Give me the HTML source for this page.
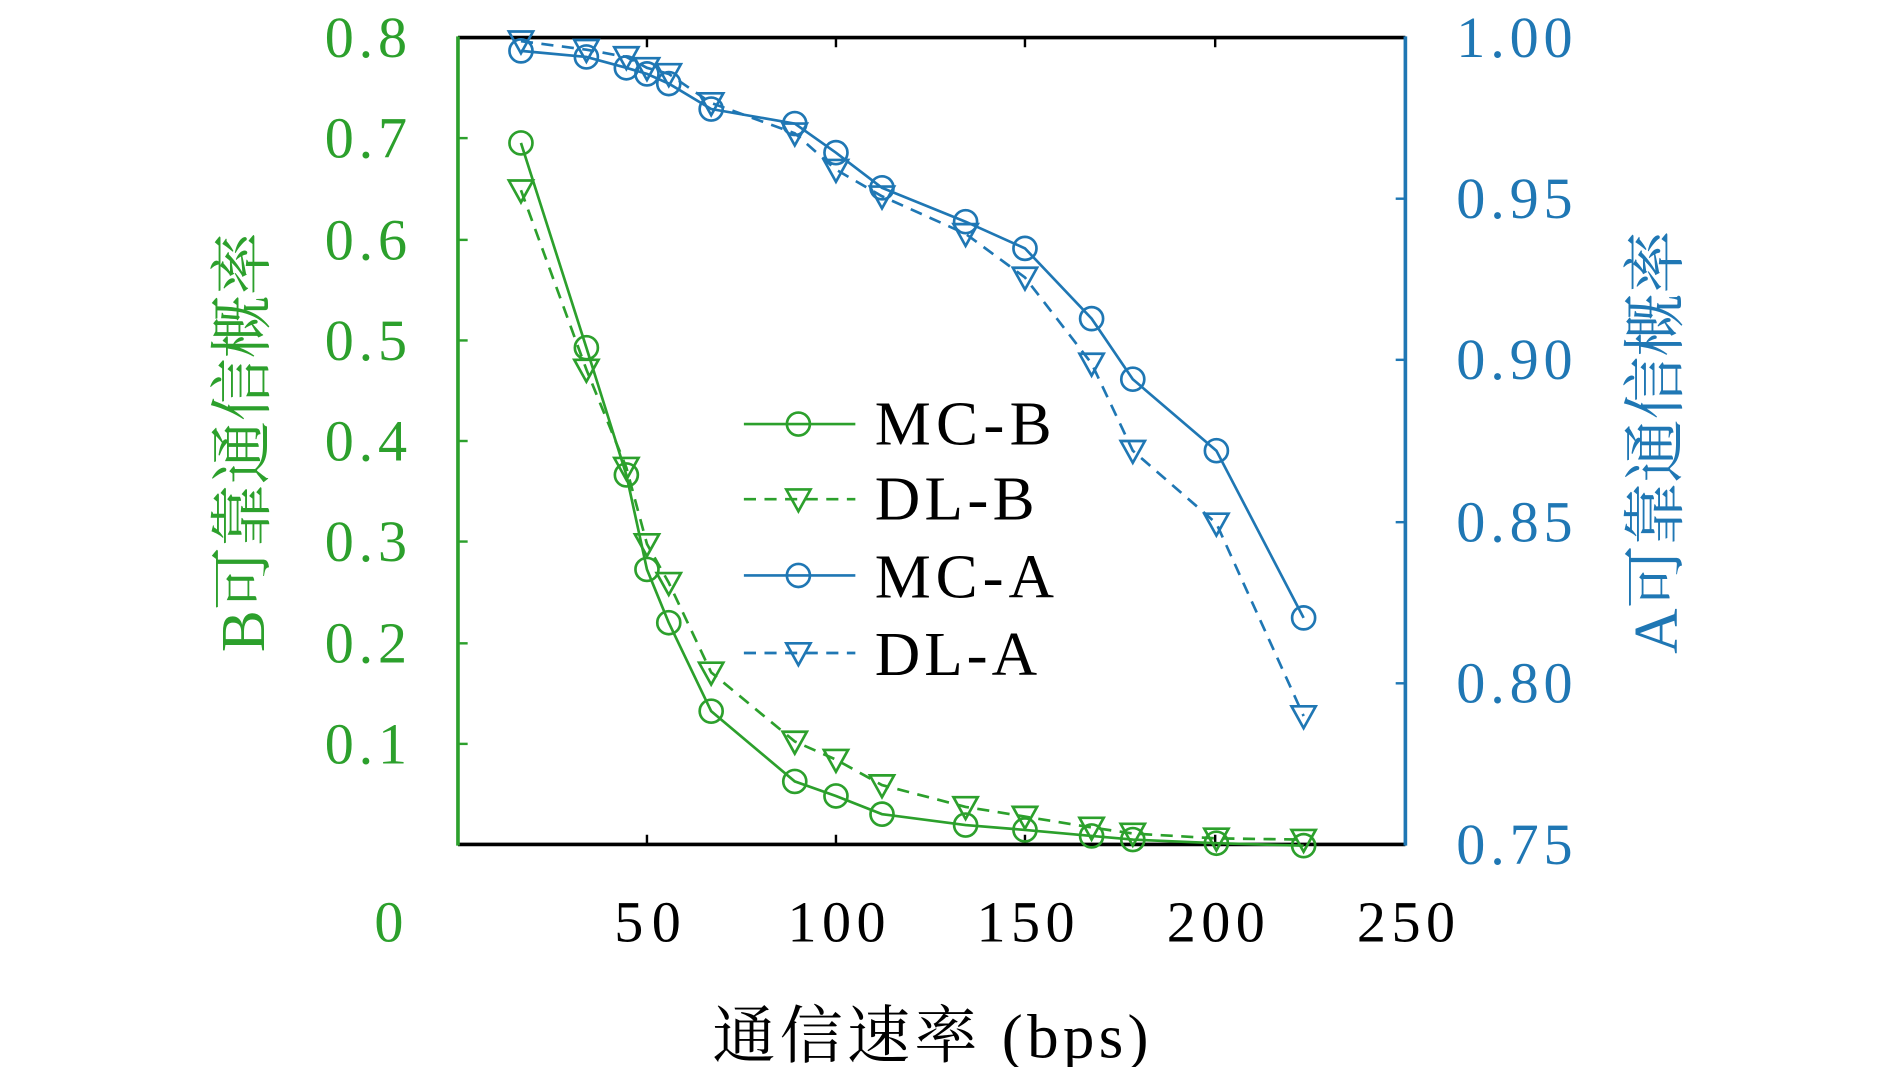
<!DOCTYPE html>
<html><head><meta charset="utf-8"><style>html,body{margin:0;padding:0;background:#fff}svg{display:block}</style></head>
<body>
<svg width="1890" height="1067" viewBox="0 0 1560 880.7" preserveAspectRatio="none" xmlns="http://www.w3.org/2000/svg" font-family="'Liberation Serif','Noto Serif CJK SC',serif">
<defs>
<circle id="c" r="9.5" fill="none" stroke-width="2.2"/>
<path id="t" d="M-10,-8 L10,-8 L0,10 Z" fill="none" stroke-width="2.2"/>
</defs>
<line x1="378" y1="31" x2="1160" y2="31" stroke="#000" stroke-width="3"/>
<line x1="378" y1="697" x2="1160" y2="697" stroke="#000" stroke-width="3"/>
<line x1="378" y1="30" x2="378" y2="698" stroke="#2ca02c" stroke-width="3"/>
<line x1="1160" y1="30" x2="1160" y2="698" stroke="#1f77b4" stroke-width="3"/>
<g stroke="#000" stroke-width="2">
<line x1="534" y1="697" x2="534" y2="689"/><line x1="690" y1="697" x2="690" y2="689"/><line x1="846" y1="697" x2="846" y2="689"/><line x1="1003" y1="697" x2="1003" y2="689"/>
<line x1="534" y1="31" x2="534" y2="39"/><line x1="690" y1="31" x2="690" y2="39"/><line x1="846" y1="31" x2="846" y2="39"/><line x1="1003" y1="31" x2="1003" y2="39"/>
</g>
<g stroke="#2ca02c" stroke-width="2">
<line x1="378" y1="114" x2="386" y2="114"/><line x1="378" y1="198" x2="386" y2="198"/><line x1="378" y1="281" x2="386" y2="281"/><line x1="378" y1="364" x2="386" y2="364"/><line x1="378" y1="447" x2="386" y2="447"/><line x1="378" y1="531" x2="386" y2="531"/><line x1="378" y1="614" x2="386" y2="614"/>
</g>
<g stroke="#1f77b4" stroke-width="2">
<line x1="1152" y1="164" x2="1160" y2="164"/><line x1="1152" y1="297" x2="1160" y2="297"/><line x1="1152" y1="431" x2="1160" y2="431"/><line x1="1152" y1="564" x2="1160" y2="564"/>
</g>
<g fill="#2ca02c" font-size="48">
<text x="268" y="47" textLength="68">0.8</text><text x="268" y="130" textLength="68">0.7</text><text x="268" y="214" textLength="68">0.6</text><text x="268" y="297" textLength="68">0.5</text><text x="268" y="380" textLength="68">0.4</text><text x="268" y="463" textLength="68">0.3</text><text x="268" y="547" textLength="68">0.2</text><text x="268" y="630" textLength="68">0.1</text><text x="309" y="777" textLength="27">0</text>
</g>
<g fill="#1f77b4" font-size="48">
<text x="1202" y="47" textLength="96">1.00</text><text x="1202" y="180" textLength="96">0.95</text><text x="1202" y="313" textLength="96">0.90</text><text x="1202" y="447" textLength="96">0.85</text><text x="1202" y="580" textLength="96">0.80</text><text x="1202" y="713" textLength="96">0.75</text>
</g>
<g fill="#000" font-size="48">
<text x="507" y="777" textLength="55">50</text><text x="650" y="777" textLength="81">100</text><text x="806" y="777" textLength="81">150</text><text x="963" y="777" textLength="81">200</text><text x="1120" y="777" textLength="81">250</text>
</g>
<text x="588" y="873" font-size="52" textLength="360" fill="#000">通信速率 (bps)</text>
<text transform="translate(218,365) rotate(-90)" font-size="52" text-anchor="middle" fill="#2ca02c">B可靠通信概率</text>
<text transform="translate(1384,365) rotate(-90)" font-size="52" text-anchor="middle" fill="#1f77b4">A可靠通信概率</text>
<g fill="none" stroke-width="2.2">
<polyline stroke="#2ca02c" points="430,118 484,287 517,392 534,470 552,514 587,587 656,645 690,657 728,672 797,681 846,685 901,690 935,693 1004,696 1076,698"/>
<polyline stroke="#2ca02c" stroke-dasharray="10,7" points="430,157 484,305 517,386 534,449 552,481 587,555 656,612 690,627 728,648 797,666 846,674 901,683 935,688 1004,692 1076,693"/>
<polyline stroke="#1f77b4" points="430,42 484,47 517,56 534,61 552,69 587,90 656,102 690,126 728,155 797,183 846,205 901,263 935,313 1004,372 1076,510"/>
<polyline stroke="#1f77b4" stroke-dasharray="10,7" points="430,34 484,41 517,47 534,56 552,61 587,85 656,110 690,140 728,162 797,193 846,229 901,300 935,372 1004,432 1076,591"/>
</g>
<g stroke="#2ca02c">
<use href="#c" x="430" y="118"/><use href="#c" x="484" y="287"/><use href="#c" x="517" y="392"/><use href="#c" x="534" y="470"/><use href="#c" x="552" y="514"/><use href="#c" x="587" y="587"/><use href="#c" x="656" y="645"/><use href="#c" x="690" y="657"/><use href="#c" x="728" y="672"/><use href="#c" x="797" y="681"/><use href="#c" x="846" y="685"/><use href="#c" x="901" y="690"/><use href="#c" x="935" y="693"/><use href="#c" x="1004" y="696"/><use href="#c" x="1076" y="698"/>
<use href="#t" x="430" y="157"/><use href="#t" x="484" y="305"/><use href="#t" x="517" y="386"/><use href="#t" x="534" y="449"/><use href="#t" x="552" y="481"/><use href="#t" x="587" y="555"/><use href="#t" x="656" y="612"/><use href="#t" x="690" y="627"/><use href="#t" x="728" y="648"/><use href="#t" x="797" y="666"/><use href="#t" x="846" y="674"/><use href="#t" x="901" y="683"/><use href="#t" x="935" y="688"/><use href="#t" x="1004" y="692"/><use href="#t" x="1076" y="693"/>
</g>
<g stroke="#1f77b4">
<use href="#c" x="430" y="42"/><use href="#c" x="484" y="47"/><use href="#c" x="517" y="56"/><use href="#c" x="534" y="61"/><use href="#c" x="552" y="69"/><use href="#c" x="587" y="90"/><use href="#c" x="656" y="102"/><use href="#c" x="690" y="126"/><use href="#c" x="728" y="155"/><use href="#c" x="797" y="183"/><use href="#c" x="846" y="205"/><use href="#c" x="901" y="263"/><use href="#c" x="935" y="313"/><use href="#c" x="1004" y="372"/><use href="#c" x="1076" y="510"/>
<use href="#t" x="430" y="34"/><use href="#t" x="484" y="41"/><use href="#t" x="517" y="47"/><use href="#t" x="534" y="56"/><use href="#t" x="552" y="61"/><use href="#t" x="587" y="85"/><use href="#t" x="656" y="110"/><use href="#t" x="690" y="140"/><use href="#t" x="728" y="162"/><use href="#t" x="797" y="193"/><use href="#t" x="846" y="229"/><use href="#t" x="901" y="300"/><use href="#t" x="935" y="372"/><use href="#t" x="1004" y="432"/><use href="#t" x="1076" y="591"/>
</g>
<g fill="none" stroke-width="2.2">
<line x1="614" y1="350" x2="706" y2="350" stroke="#2ca02c"/>
<line x1="614" y1="412" x2="706" y2="412" stroke="#2ca02c" stroke-dasharray="10,7"/>
<line x1="614" y1="475" x2="706" y2="475" stroke="#1f77b4"/>
<line x1="614" y1="539" x2="706" y2="539" stroke="#1f77b4" stroke-dasharray="10,7"/>
</g>
<use href="#c" x="659" y="350" stroke="#2ca02c"/>
<use href="#t" x="659" y="412" stroke="#2ca02c"/>
<use href="#c" x="659" y="475" stroke="#1f77b4"/>
<use href="#t" x="659" y="539" stroke="#1f77b4"/>
<g font-size="52" fill="#000">
<text x="722" y="367" textLength="146">MC-B</text><text x="722" y="429" textLength="132">DL-B</text><text x="722" y="493" textLength="148">MC-A</text><text x="722" y="557" textLength="134">DL-A</text>
</g>
</svg>
</body></html>
